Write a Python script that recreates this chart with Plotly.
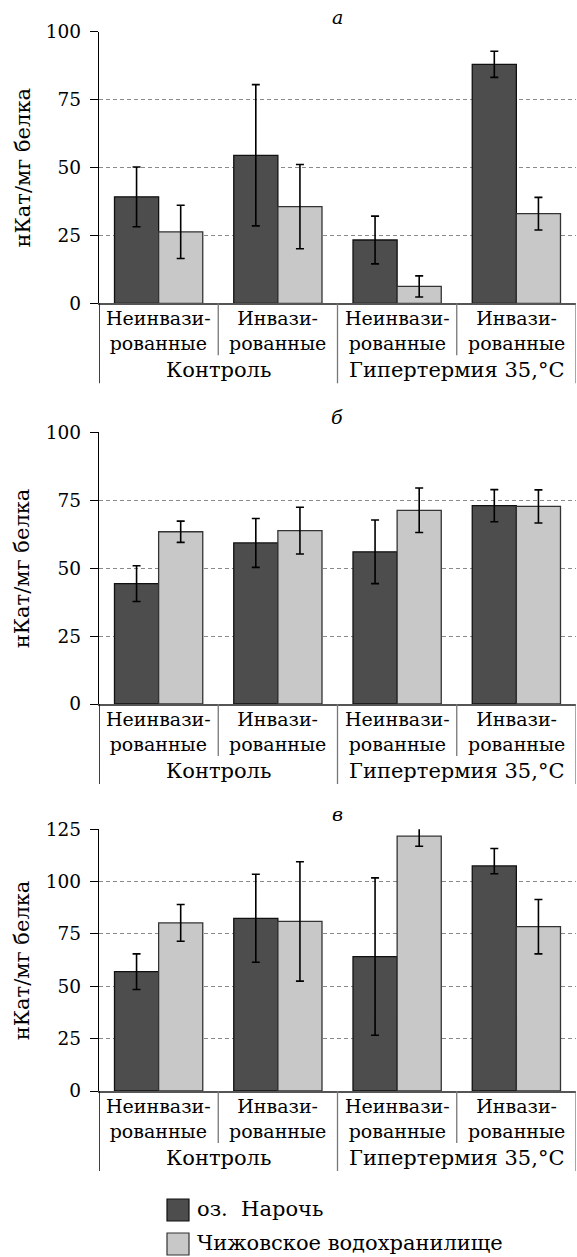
import plotly.graph_objects as go

W, H = 577, 1257

# ---------------- data ----------------
outer_groups = ["Контроль", "Гипертермия 35,°C"]
inner_labels = ["Неинвази-<br>рованные", "Инвази-<br>рованные",
                "Неинвази-<br>рованные", "Инвази-<br>рованные"]
series_names = ["оз.  Нарочь", "Чижовское водохранилище"]
panel_titles = ["а", "б", "в"]
y_title = "нКат/мг белка"

a_naroch = [39.2, 54.5, 23.3, 88.0]
a_naroch_err = [11.0, 26.0, 8.8, 4.8]
a_chizh = [26.3, 35.6, 6.2, 33.0]
a_chizh_err = [9.8, 15.5, 3.9, 6.0]

b_naroch = [44.3, 59.3, 56.0, 73.0]
b_naroch_err = [6.6, 9.0, 11.7, 5.9]
b_chizh = [63.4, 63.8, 71.3, 72.7]
b_chizh_err = [3.9, 8.6, 8.2, 6.1]

c_naroch = [57.0, 82.5, 64.2, 107.5]
c_naroch_err_plus = [8.5, 21.0, 37.6, 8.3]
c_naroch_err_minus = [8.5, 21.0, 37.6, 3.7]
c_chizh = [80.3, 81.0, 121.7, 78.5]
c_chizh_err = [8.8, 28.5, 4.8, 13.0]

y_max = [100, 100, 125]
y_dtick = 25

# ---------------- styling ----------------
FONT = "DejaVu Serif, Liberation Serif, serif"
DARK = "#4d4d4d"
LIGHT = "#c8c8c8"

def py(px):
    return 1 - px / H

# pixel positions of each panel's plot area (top, bottom)
panels_px = [(31.7, 303.3), (432.3, 704.0), (829.3, 1091.0)]
x_dom = [99 / W, 576 / W]

fig = go.Figure()

panels = [
    (a_naroch, a_naroch_err, a_naroch_err, a_chizh, a_chizh_err),
    (b_naroch, b_naroch_err, b_naroch_err, b_chizh, b_chizh_err),
    (c_naroch, c_naroch_err_plus, c_naroch_err_minus, c_chizh, c_chizh_err),
]

xs = list(range(len(inner_labels)))
layout = {}
annotations = []
shapes = []

for i, (n_vals, n_ep, n_em, c_vals, c_err) in enumerate(panels):
    sfx = "" if i == 0 else str(i + 1)
    xa, ya = "x" + sfx, "y" + sfx
    fig.add_trace(go.Bar(
        x=xs, y=n_vals, xaxis=xa, yaxis=ya, name=series_names[0],
        offsetgroup="n", showlegend=False,
        marker=dict(color=DARK, line=dict(color="#111111", width=1.3)),
        error_y=dict(type="data", array=n_ep, arrayminus=n_em, symmetric=False,
                     color="black", thickness=1.6, width=4),
    ))
    fig.add_trace(go.Bar(
        x=xs, y=c_vals, xaxis=xa, yaxis=ya, name=series_names[1],
        offsetgroup="c", showlegend=False,
        marker=dict(color=LIGHT, line=dict(color="#333333", width=1.3)),
        error_y=dict(type="data", array=c_err, color="black",
                     thickness=1.6, width=4),
    ))
    top_px, bot_px = panels_px[i]
    layout["xaxis" + sfx] = dict(
        domain=x_dom, anchor=ya, range=[-0.5, len(xs) - 0.5],
        showticklabels=False, ticks="", showgrid=False, zeroline=False,
        showline=True, linecolor="#555555", linewidth=1.5, fixedrange=True,
        automargin=False,
    )
    layout["yaxis" + sfx] = dict(
        domain=[py(bot_px), py(top_px)], anchor=xa, range=[0, y_max[i]],
        dtick=y_dtick, tick0=0, ticks="outside", ticklen=8, tickwidth=1,
        tickcolor="black", showline=True, linecolor="black", linewidth=1.3,
        showgrid=True, gridcolor="#8a8a8a", gridwidth=1, griddash="4px,3px",
        zeroline=False, ticklabelstandoff=5, automargin=False,
        tickfont=dict(family=FONT, size=18.5, color="black"),
    )
    # panel title
    annotations.append(dict(
        text="<i>" + panel_titles[i] + "</i>", xref="paper", yref="paper",
        x=(x_dom[0] + x_dom[1]) / 2, y=py(top_px - 15), showarrow=False,
        xanchor="center", yanchor="middle",
        font=dict(family=FONT, size=19, color="black"),
    ))
    # y title
    annotations.append(dict(
        text=y_title, xref="paper", yref="paper", x=22 / W,
        y=py((top_px + bot_px) / 2), textangle=-90, showarrow=False,
        xanchor="center", yanchor="middle",
        font=dict(family=FONT, size=21, color="black"),
    ))
    # inner category labels
    for k, lab in enumerate(inner_labels):
        annotations.append(dict(
            text=lab, xref=xa, yref="paper", x=xs[k], y=py(bot_px + 27),
            showarrow=False, xanchor="center", yanchor="middle",
            font=dict(family=FONT, size=19, color="black"),
        ))
    # outer group labels
    for g, lab in enumerate(outer_groups):
        annotations.append(dict(
            text=lab, xref=xa, yref="paper", x=2 * g + 0.5, y=py(bot_px + 67),
            showarrow=False, xanchor="center", yanchor="middle",
            font=dict(family=FONT, size=21, color="black"),
        ))
    # separators
    for xv, depth, col in [(-0.5, 80, "black"), (0.5, 52, "#777777"),
                           (1.5, 80, "#777777"), (2.5, 52, "#777777"),
                           (3.5, 80, "#777777")]:
        shapes.append(dict(
            type="line", xref=xa, yref="paper", x0=xv, x1=xv,
            y0=py(bot_px), y1=py(bot_px + depth),
            line=dict(color=col, width=1.5 if xv == -0.5 else 1.3),
        ))

# legend (drawn manually to match large square swatches)
legend_rows = [(1199, 1221, DARK, "#111111"), (1233, 1255, LIGHT, "#333333")]
for (t, b, fill, lc), name in zip(legend_rows, series_names):
    shapes.append(dict(
        type="rect", xref="paper", yref="paper",
        x0=167 / W, x1=189 / W, y0=py(b), y1=py(t),
        fillcolor=fill, line=dict(color=lc, width=1.2),
    ))
    annotations.append(dict(
        text=name, xref="paper", yref="paper", x=195 / W, y=py((t + b) / 2 - 1),
        showarrow=False, xanchor="left", yanchor="middle",
        font=dict(family=FONT, size=21, color="black"),
    ))

fig.update_layout(
    template="none",
    width=W, height=H, margin=dict(l=0, r=0, t=0, b=0, autoexpand=False),
    paper_bgcolor="white", plot_bgcolor="white",
    barmode="group", bargap=0.26, bargroupgap=0,
    showlegend=False, annotations=annotations, shapes=shapes,
    font=dict(family=FONT, color="black"),
    **layout,
)

fig.write_html(
    "out.html",
    config={"displayModeBar": False},
    post_script="document.body.style.margin='0';document.body.style.padding='0';"
                "document.documentElement.style.overflow='hidden';",
)
